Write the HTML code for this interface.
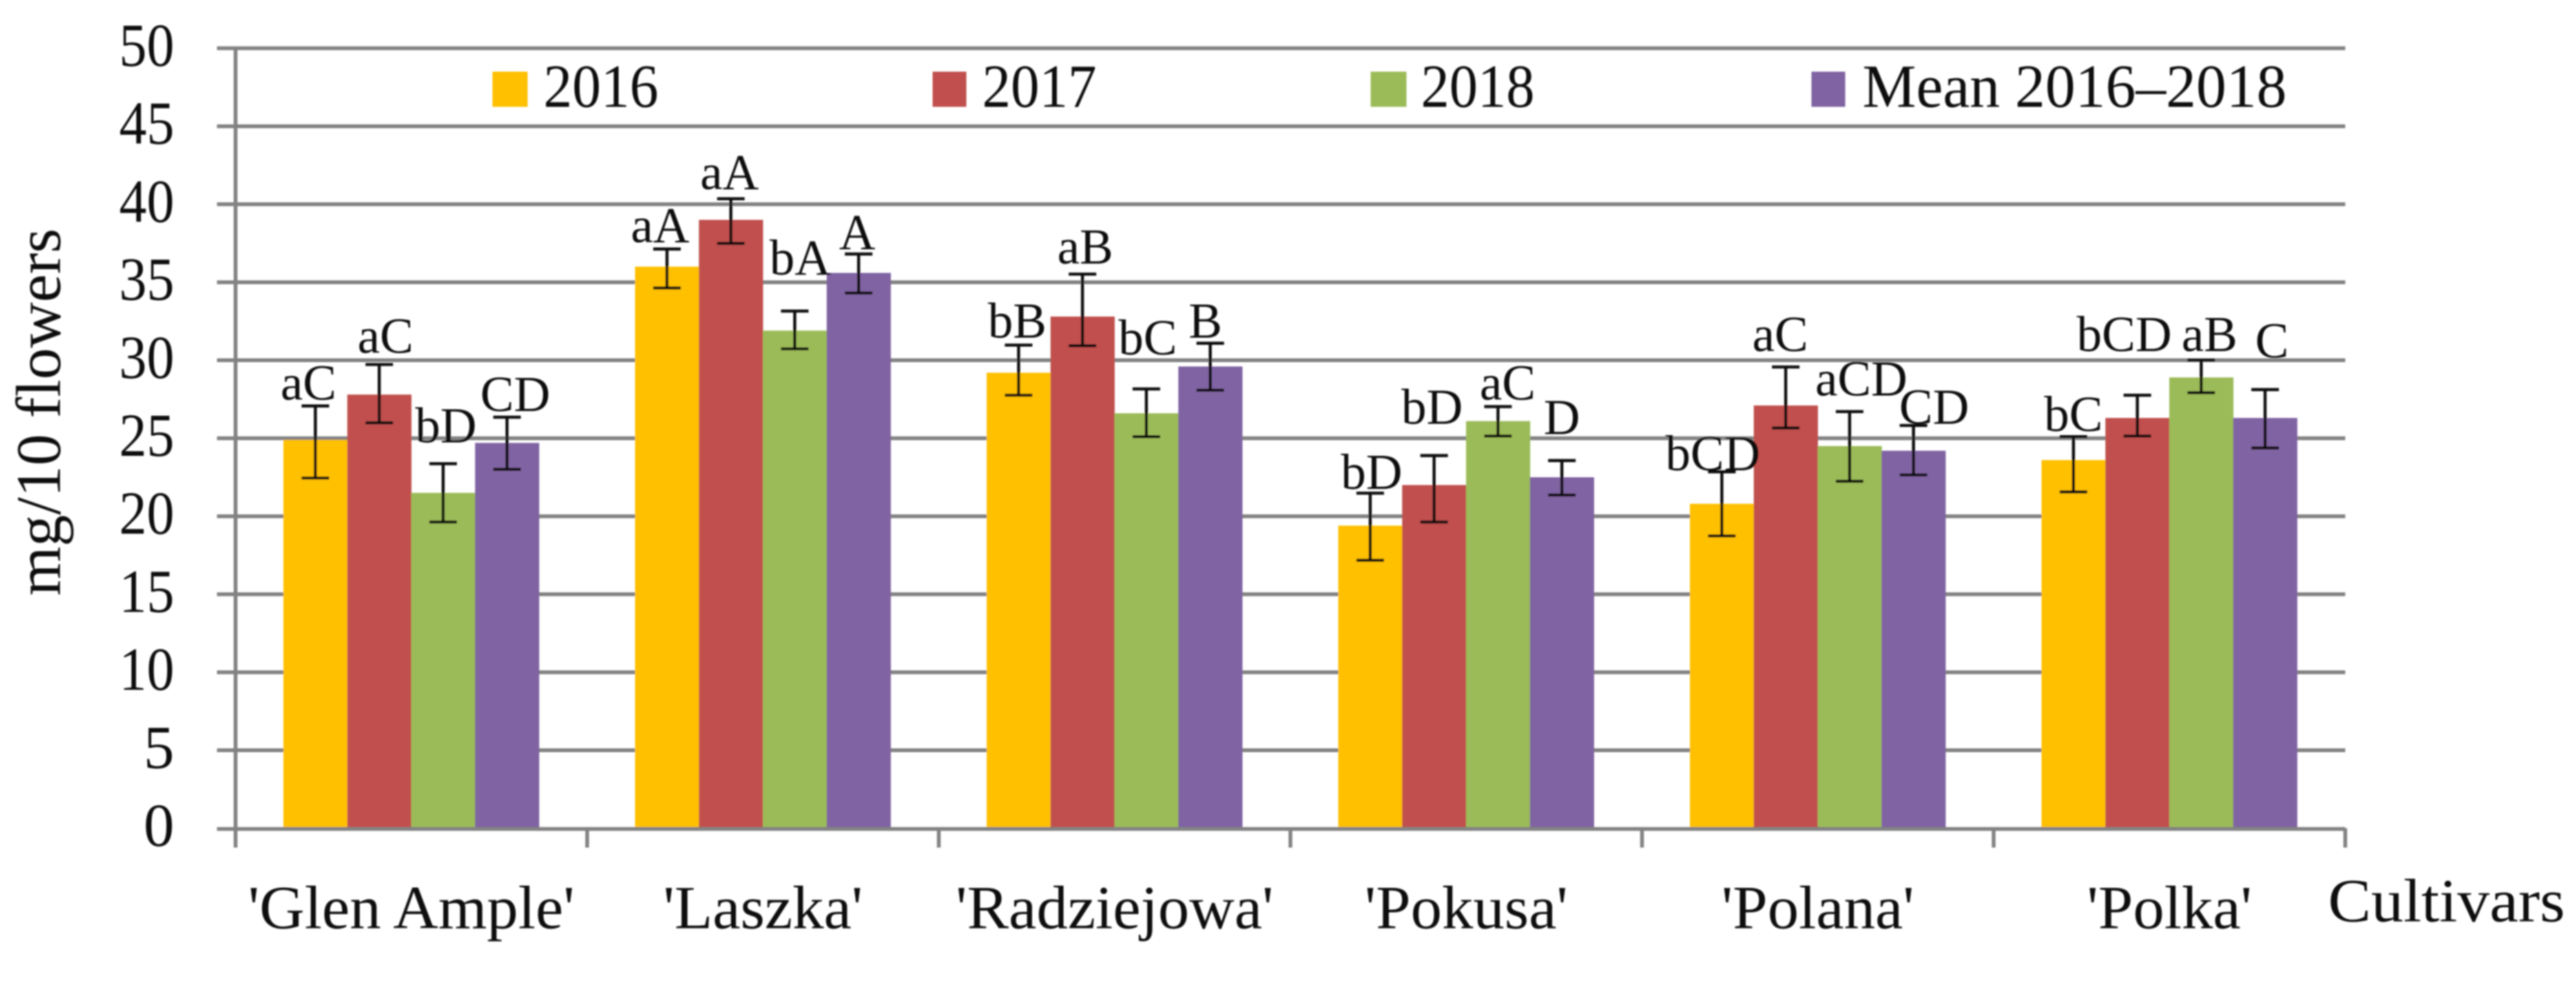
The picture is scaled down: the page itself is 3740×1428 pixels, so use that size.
<!DOCTYPE html>
<html lang="en">
<head>
<meta charset="utf-8">
<title>Flower yield by cultivar</title>
<style>
  html, body { margin: 0; padding: 0; background: #fff; }
  svg { display: block; }
  text { font-family: "Liberation Serif", serif; fill: #111111; }
</style>
</head>
<body>
<svg id="chart" xmlns="http://www.w3.org/2000/svg" width="3740" height="1428" viewBox="0 0 3740 1428">
  <defs>
    <filter id="soft" x="0" y="0" width="100%" height="100%" filterUnits="userSpaceOnUse" primitiveUnits="userSpaceOnUse">
      <feGaussianBlur stdDeviation="1"/>
    </filter>
  </defs>
  <rect x="0" y="0" width="3740" height="1428" fill="#ffffff"/>
  <g id="plot" filter="url(#soft)">
    <g id="gridlines"></g>
    <g id="bars"></g>
    <g id="axes"></g>
    <g id="errors"></g>
    <g id="labels"></g>
    <g id="ytick-labels"></g>
    <g id="xtick-labels"></g>
    <text x="87" y="598" font-size="92" text-anchor="middle" textLength="533" lengthAdjust="spacingAndGlyphs" transform="rotate(-90 87 598)">mg/10 flowers</text>
    <text x="3380" y="1337" font-size="89" textLength="344" lengthAdjust="spacingAndGlyphs">Cultivars</text>
    <g>
      <rect x="715" y="104" width="51" height="51" fill="#FFC000"/>
      <text x="789" y="155" font-size="89" textLength="167" lengthAdjust="spacingAndGlyphs">2016</text>
      <rect x="1354" y="104" width="49" height="51" fill="#C0504D"/>
      <text x="1426" y="155" font-size="89" textLength="166" lengthAdjust="spacingAndGlyphs">2017</text>
      <rect x="1990" y="104" width="52" height="51" fill="#9BBB59"/>
      <text x="2063" y="155" font-size="89" textLength="165" lengthAdjust="spacingAndGlyphs">2018</text>
      <rect x="2630" y="104" width="49" height="51" fill="#8064A2"/>
      <text x="2704" y="155" font-size="89" textLength="616" lengthAdjust="spacingAndGlyphs">Mean 2016–2018</text>
    </g>
  </g>
</svg>
<script>
// ---- chart data ----
const categories = ["'Glen Ample'", "'Laszka'", "'Radziejowa'", "'Pokusa'", "'Polana'", "'Polka'"];
const yTicks = [0, 5, 10, 15, 20, 25, 30, 35, 40, 45, 50];

const values2016 = [24.9, 36.0, 29.2, 19.4, 20.8, 23.6];
const values2017 = [27.8, 39.0, 32.8, 22.0, 27.1, 26.3];
const values2018 = [21.5, 31.9, 26.6, 26.1, 24.5, 28.9];
const valuesMean = [24.7, 35.6, 29.6, 22.5, 24.2, 26.3];

const errHigh2016 = [27.07, 37.13, 30.97, 21.48, 22.85, 25.10];
const errHigh2017 = [29.73, 40.35, 35.52, 23.89, 29.57, 27.76];
const errHigh2018 = [23.37, 33.15, 28.16, 27.03, 26.71, 30.01];
const errHighMean = [26.35, 36.81, 31.09, 23.57, 25.82, 28.12];

const errLow2016 = [22.45, 34.63, 27.76, 17.18, 18.74, 21.56];
const errLow2017 = [25.99, 37.49, 30.93, 19.63, 25.66, 25.14];
const errLow2018 = [19.63, 30.73, 25.10, 25.14, 22.24, 27.92];
const errLowMean = [23.01, 34.31, 28.08, 21.36, 22.65, 24.38];

const letters2016 = ["aC", "aA", "bB", "bD", "bCD", "bC"];
const letters2017 = ["aC", "aA", "aB", "bD", "aC", "bCD"];
const letters2018 = ["bD", "bA", "bC", "aC", "aCD", "aB"];
const lettersMean = ["CD", "A", "B", "D", "CD", "C"];

// ---- layout (hand placement of the letters relative to their error bars) ----
const nudgeX2016 = [-10, -10, -2, 2, -13, 0];
const nudgeX2017 = [9, -2, 4, -3, -8, -19];
const nudgeX2018 = [4, 8, 2, 14, 17, 12];
const nudgeXMean = [12, -2, -7, 0, 30, 10];
const nudgeY2016 = [-9, -10, -11, -6, -2, -8];
const nudgeY2017 = [-17, -14, -15.5, -46, -23, -64];
const nudgeY2018 = [-31, -53, -50, -10, -23.5, -13];
const nudgeYMean = [-9, -7, -8, -38.5, -2.5, -46.6];

const SVG_NS = 'http://www.w3.org/2000/svg';
const plot = { axisX: 342, band: 510.5, groupInset: 69.5, barW: 92.75, y0: 1202, yPerUnit: 22.64, gridLeft: 315, gridRight: 3405, tickBottom: 1230 };
const xBand = i => plot.axisX + plot.band * i;
const xBar = (i, s) => xBand(i) + plot.groupInset + plot.barW * s;
const yVal = v => plot.y0 - v * plot.yPerUnit;

const seriesList = [
  { key: '2016', color: '#FFC000', values: values2016, hi: errHigh2016, lo: errLow2016, letters: letters2016, nx: nudgeX2016, ny: nudgeY2016 },
  { key: '2017', color: '#C0504D', values: values2017, hi: errHigh2017, lo: errLow2017, letters: letters2017, nx: nudgeX2017, ny: nudgeY2017 },
  { key: '2018', color: '#9BBB59', values: values2018, hi: errHigh2018, lo: errLow2018, letters: letters2018, nx: nudgeX2018, ny: nudgeY2018 },
  { key: 'mean', color: '#8064A2', values: valuesMean, hi: errHighMean, lo: errLowMean, letters: lettersMean, nx: nudgeXMean, ny: nudgeYMean }
];

function make(tag, attrs, parent) {
  const el = document.createElementNS(SVG_NS, tag);
  for (const k in attrs) el.setAttribute(k, attrs[k]);
  parent.appendChild(el);
  return el;
}

const gridG = document.getElementById('gridlines');
const barsG = document.getElementById('bars');
const axesG = document.getElementById('axes');
const errG = document.getElementById('errors');
const labG = document.getElementById('labels');
const yLabG = document.getElementById('ytick-labels');
const xLabG = document.getElementById('xtick-labels');
const AXIS = { stroke: '#828282', 'stroke-width': 5.5 };

yTicks.forEach(t => {
  if (t !== 0) {
    const g = make('line', Object.assign({ x1: plot.gridLeft, x2: plot.gridRight, y1: yVal(t), y2: yVal(t) }, AXIS), gridG);
    
    
  }
  const lab = make('text', { x: 253, y: yVal(t) + 25.5, 'font-size': 89, 'text-anchor': 'end' }, yLabG);
  lab.textContent = String(t);
  
  
  if (t >= 10) {
    lab.setAttribute('textLength', 80);
    lab.setAttribute('lengthAdjust', 'spacingAndGlyphs');
  }
});

seriesList.forEach((s, si) => {
  categories.forEach((c, i) => {
    const top = yVal(s.values[i]);
    const bar = make('rect', { x: xBar(i, si), y: top, width: plot.barW + 0.4, height: plot.y0 - top, fill: s.color }, barsG);
    
    

    const cx = xBar(i, si) + plot.barW / 2;
    const yHi = yVal(s.hi[i]);
    const yLo = yVal(s.lo[i]);
    const eb = make('path', {
      d: 'M' + cx + ' ' + yHi + 'V' + yLo + 'M' + (cx - 20) + ' ' + yHi + 'H' + (cx + 20) + 'M' + (cx - 20) + ' ' + yLo + 'H' + (cx + 20),
      stroke: '#0c0c0c', 'stroke-width': 4.4, fill: 'none'
    }, errG);
    
    

    const lab = make('text', { x: cx + s.nx[i], y: yHi + s.ny[i], 'font-size': 73, 'text-anchor': 'middle' }, labG);
    lab.textContent = s.letters[i];
    
    
  });
});

// axes
const yAxis = make('line', Object.assign({ x1: plot.axisX, x2: plot.axisX, y1: yVal(50) - 2, y2: plot.tickBottom }, AXIS), axesG);


const xAxis = make('line', Object.assign({ x1: plot.gridLeft, x2: plot.gridRight, y1: plot.y0 + 1, y2: plot.y0 + 1 }, AXIS), axesG);


for (let i = 1; i <= categories.length; i++) {
  const tick = make('line', Object.assign({ x1: xBand(i), x2: xBand(i), y1: plot.y0, y2: plot.tickBottom }, AXIS), axesG);
  
  
}

categories.forEach((c, i) => {
  const lab = make('text', { x: xBand(i) + plot.band / 2, y: 1347, 'font-size': 89, 'text-anchor': 'middle' }, xLabG);
  lab.textContent = c;
  
  
  lab.setAttribute('textLength', (lab.getComputedTextLength() * 1.02).toFixed(1));
  lab.setAttribute('lengthAdjust', 'spacingAndGlyphs');
});
</script>
</body>
</html>
